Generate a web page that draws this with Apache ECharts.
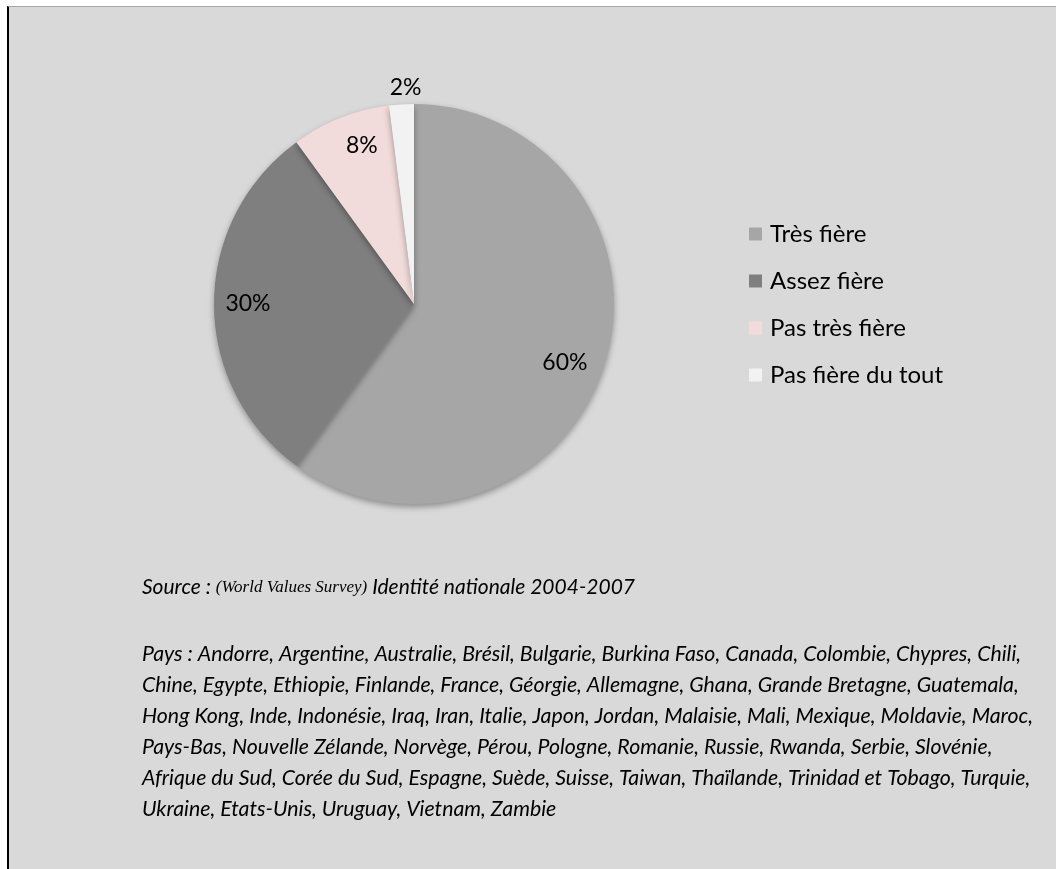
<!DOCTYPE html>
<html><head><meta charset="utf-8">
<script src="https://cdn.jsdelivr.net/npm/echarts@6/dist/echarts.min.js"></script>
<style>
html,body{margin:0;padding:0;background:#fff;}
#frame{position:absolute;left:7px;top:6px;width:1049px;height:863px;background:#d9d9d9;border-top:1px solid #a6a6a6;border-left:2px solid #000;box-sizing:border-box;}
#chart{position:absolute;left:0;top:0;width:1056px;height:869px;}
</style></head><body>
<div id="frame"></div><div id="chart"></div>
<script>
const categories = ['Très fière', 'Assez fière', 'Pas très fière', 'Pas fière du tout'];
const values = [60, 30, 8, 2];
const colors = ['#a6a6a6', '#7f7f7f', '#f2dcdb', '#f2f2f2'];
const sourceParts = ['Source : ', '(World Values Survey)', ' Identité nationale 2004-2007'];
const paysLines = [
  'Pays : Andorre, Argentine, Australie, Brésil, Bulgarie, Burkina Faso, Canada, Colombie, Chypres, Chili,',
  'Chine, Egypte, Ethiopie, Finlande, France, Géorgie, Allemagne, Ghana, Grande Bretagne, Guatemala,',
  'Hong Kong, Inde, Indonésie, Iraq, Iran, Italie, Japon, Jordan, Malaisie, Mali, Mexique, Moldavie, Maroc,',
  'Pays-Bas, Nouvelle Zélande, Norvège, Pérou, Pologne, Romanie, Russie, Rwanda, Serbie, Slovénie,',
  'Afrique du Sud, Corée du Sud, Espagne, Suède, Suisse, Taiwan, Thaïlande, Trinidad et Tobago, Turquie,',
  'Ukraine, Etats-Unis, Uruguay, Vietnam, Zambie'
];

const FONT = 'Lato, "Open Sans", sans-serif';
const pieData = categories.map((n, i) => ({ name: n, value: values[i], itemStyle: { color: colors[i] } }));
const labelData = categories.map((n, i) => ({ name: n, value: values[i] }));

const chart = echarts.init(document.getElementById('chart'), null, { renderer: 'canvas' });
chart.setOption({
  backgroundColor: 'transparent',
  animation: false,
  legend: {
    orient: 'vertical',
    left: 744,
    top: 215,
    icon: 'rect',
    itemWidth: 13,
    itemHeight: 13,
    itemGap: 19,
    data: categories,
    textStyle: { fontFamily: FONT, fontSize: 24, color: '#000', lineHeight: 28, padding: [0, 0, 0, 3] }
  },
  series: [
    {
      type: 'pie',
      center: [414, 304],
      radius: [0, 200],
      startAngle: 90,
      clockwise: true,
      silent: true,
      data: pieData,
      label: { show: false },
      labelLine: { show: false },
      itemStyle: { shadowBlur: 6, shadowOffsetY: 3, shadowOffsetX: 0, shadowColor: 'rgba(0,0,0,0.35)' }
    },
    {
      type: 'pie',
      center: [414, 304],
      radius: [126, 200],
      startAngle: 90,
      clockwise: true,
      silent: true,
      legendHoverLink: false,
      data: labelData,
      itemStyle: { color: 'rgba(0,0,0,0)' },
      label: {
        show: true,
        position: 'inside',
        formatter: p => p.value + '%',
        fontFamily: FONT,
        fontSize: 23,
        color: '#000'
      },
      labelLine: { show: false },
      labelLayout: p => {
        if (p.dataIndex === 3) return { dx: 2, dy: -51 };
        if (p.dataIndex === 0) return { dx: -7, dy: 7 };
        if (p.dataIndex === 2) return { dx: 9, dy: -4 };
        return {};
      }
    }
  ],
  graphic: [
    {
      type: 'text',
      left: 142,
      top: 577,
      style: {
        text: '{a|' + sourceParts[0] + '}{b|' + sourceParts[1] + '}{a|' + sourceParts[2] + '}',
        rich: {
          a: { fontFamily: FONT, fontStyle: 'italic', fontSize: 21, fill: '#000' },
          b: { fontFamily: '"Liberation Serif", serif', fontStyle: 'italic', fontSize: 17, fill: '#000' }
        }
      }
    },
    {
      type: 'text',
      left: 142,
      top: 639,
      style: {
        text: paysLines.join('\n'),
        fontFamily: FONT,
        fontStyle: 'italic',
        fontSize: 21.3,
        lineHeight: 31,
        fill: '#000'
      }
    }
  ]
});
</script>
</body></html>
